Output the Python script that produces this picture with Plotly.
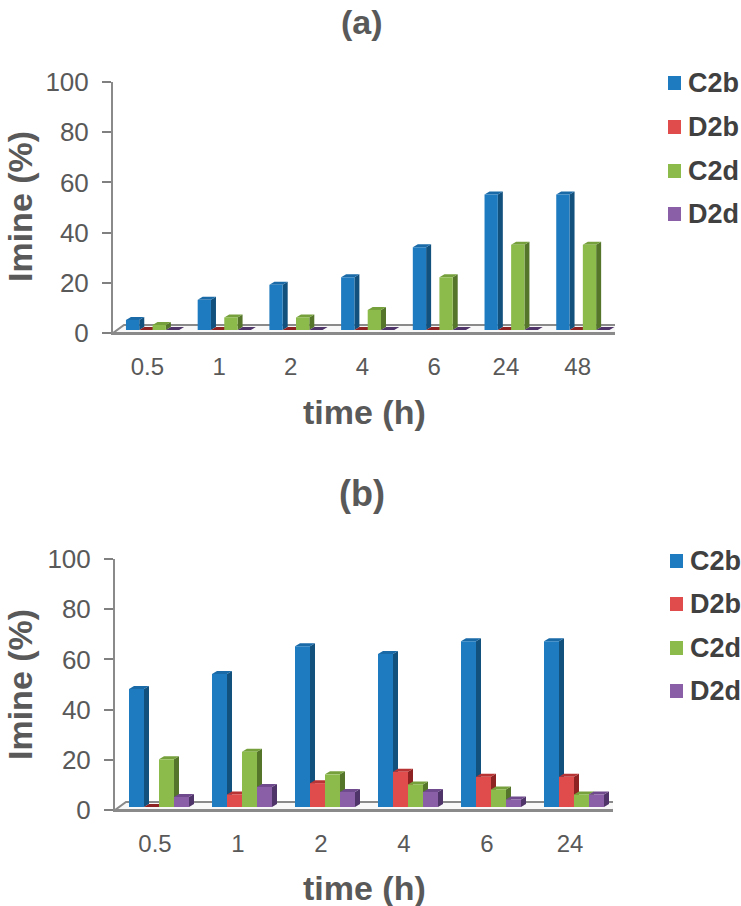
import plotly.graph_objects as go

series = ["C2b", "D2b", "C2d", "D2d"]
times_a = ["0.5", "1", "2", "4", "6", "24", "48"]
c2b_a = [4, 12, 18, 21, 33, 54, 54]
d2b_a = [0, 0, 0, 0, 0, 0, 0]
c2d_a = [2, 5, 5, 8, 21, 34, 34]
d2d_a = [0, 0, 0, 0, 0, 0, 0]
times_b = ["0.5", "1", "2", "4", "6", "24"]
c2b_b = [47, 53, 64, 61, 66, 66]
d2b_b = [0, 5, 9.5, 14, 12, 12]
c2d_b = [19, 22, 13, 9, 7, 5]
d2d_b = [4, 8, 6, 6, 3, 5]

front = ["#1F7BBF", "#E04B4B", "#8DBB4B", "#8A5FA8"]
side = ["#12507E", "#8E2222", "#55752B", "#4E3468"]
top = ["#1A6AA8", "#B83333", "#76A03C", "#6F4A8C"]

W, H = 741, 906
GRAY = "#595959"
FONT = "Liberation Sans"
fig = go.Figure()
annots = []
shapes = []


def text(s, x, y, size, color=GRAY, angle=0, xanchor="center"):
    annots.append(dict(text=f"<b>{s}</b>", x=x / W, y=1 - y / H, xref="paper", yref="paper", showarrow=False,
                       textangle=angle, xanchor=xanchor, yanchor="middle",
                       font=dict(family=FONT, size=size, color=color)))


def panel(n, times, vals, left, right, y0, y100, barw, shift, ticks_y, legend_ys, legend_x, xtitle_y, ytitle_y):
    xa, ya = f"x{n}", f"y{n}"
    xo, yo = f"x{n + 2}", f"y{n + 2}"
    k = len(times)
    ux = (right - left) / k
    uy = (y0 - y100) / 100
    depth_x, depth_y = 5 / ux, 3 / uy
    base = 1.2
    bx, by = 11 / ux, 8 / uy
    fig.add_trace(go.Scatter(
        x=[0, k, k + bx, bx, 0], y=[0, 0, by, by, 0], mode="lines", fill="toself",
        fillcolor="#F8F8F8", line=dict(color="#8A8A8A", width=2), xaxis=xa, yaxis=ya,
        showlegend=False, hoverinfo="skip", cliponaxis=False))
    w = barw / ux
    off = shift / ux
    for g in range(k):
        for j in range(4):
            v = vals[j][g]
            xc = g + 0.5 + off + (j - 1.5) * w
            x0, x1 = xc - w / 2, xc + w / 2
            t = base + v
            if v > 0:
                fig.add_trace(go.Scatter(
                    x=[x1, x1 + depth_x, x1 + depth_x, x1, x1],
                    y=[base, base + depth_y, t + depth_y, t, base],
                    mode="lines", fill="toself", fillcolor=side[j], line=dict(width=0),
                    xaxis=xa, yaxis=ya, showlegend=False, hoverinfo="skip"))
            fig.add_trace(go.Scatter(
                x=[x0, x1, x1 + depth_x, x0 + depth_x, x0],
                y=[t, t, t + depth_y, t + depth_y, t],
                mode="lines", fill="toself", fillcolor=top[j] if v > 0 else side[j], line=dict(width=0),
                xaxis=xa, yaxis=ya, showlegend=False, hoverinfo="skip"))
    for j, name in enumerate(series):
        fig.add_trace(go.Bar(
            x=[g + 0.5 + off + (j - 1.5) * w for g in range(k)], y=vals[j], base=base, width=w,
            name=name, marker=dict(color=front[j], line=dict(width=0)),
            xaxis=xo, yaxis=yo, showlegend=False))
        ly = legend_ys[j]
        shapes.append(dict(type="rect", xref="paper", yref="paper", x0=legend_x / W, x1=(legend_x + 13) / W,
                           y0=1 - (ly + 7) / H, y1=1 - (ly - 7) / H,
                           fillcolor=front[j], line=dict(width=0)))
        text(name, legend_x + 18, ly, 27, "#404040", xanchor="left")
    text("time (h)", 364, xtitle_y, 34)
    text("Imine (%)", 20, ytitle_y, 34, angle=-90)
    dx = [left / W, right / W]
    dy = [1 - y0 / H, 1 - y100 / H]
    fig.update_layout({
        f"xaxis{n}": dict(domain=dx, range=[0, k], tickvals=[i + 0.5 - 1.5 / ux for i in range(k)], ticktext=times,
                          ticks="outside", ticklen=11, tickcolor="rgba(0,0,0,0)", showgrid=False, zeroline=False,
                          showline=True, linecolor="#8A8A8A", linewidth=2,
                          tickfont=dict(family=FONT, size=24, color=GRAY), anchor=ya, automargin=False),
        f"yaxis{n}": dict(domain=dy, range=[0, 100], tickvals=ticks_y, ticks="outside", ticklen=9, tickwidth=2,
                          tickcolor="#808080", showgrid=False, zeroline=False, showline=True,
                          linecolor="#8A8A8A", linewidth=2, anchor=xa, automargin=False, ticklabelstandoff=8,
                          tickfont=dict(family=FONT, size=26, color=GRAY)),
        f"xaxis{n + 2}": dict(domain=dx, range=[0, k], overlaying=xa, visible=False, anchor=yo),
        f"yaxis{n + 2}": dict(domain=dy, range=[0, 100], overlaying=ya, visible=False, anchor=xo),
    })


ticks = [0, 20, 40, 60, 80, 100]
panel(1, times_a, [c2b_a, d2b_a, c2d_a, d2d_a], 113, 615, 333, 82, 13.3, 3.7, ticks, [83, 127, 171, 214], 668, 412, 207)
panel(2, times_b, [c2b_b, d2b_b, c2d_b, d2d_b], 115, 613, 810, 559, 15, 2.5, ticks, [561, 604, 648, 691], 670, 888, 685)
text("(a)", 362, 22, 34)
text("(b)", 362, 493, 36)

fig.update_layout(
    width=W, height=H, autosize=False, margin=dict(l=0, r=0, t=0, b=0),
    paper_bgcolor="white", plot_bgcolor="rgba(0,0,0,0)", barmode="overlay", showlegend=False,
    annotations=annots, shapes=shapes)

fig.write_html("out.html", post_script="document.body.style.margin='0';document.documentElement.style.overflow='hidden';",
               config={"displayModeBar": False})
